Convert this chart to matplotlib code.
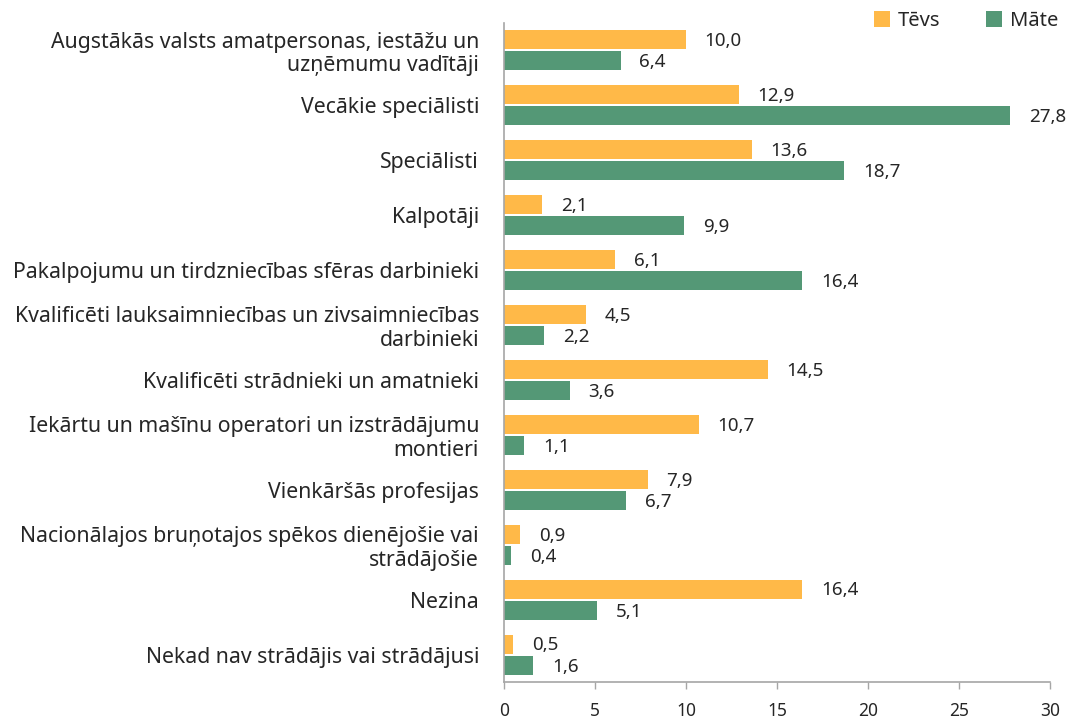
import matplotlib
matplotlib.use("Agg")
import matplotlib.pyplot as plt
import numpy as np

plt.rcParams['font.family'] = ['Noto Sans', 'DejaVu Sans']

categories = [
    "Augstākās valsts amatpersonas, iestāžu un\nuzņēmumu vadītāji",
    "Vecākie speciālisti",
    "Speciālisti",
    "Kalpotāji",
    "Pakalpojumu un tirdzniecības sfēras darbinieki",
    "Kvalificēti lauksaimniecības un zivsaimniecības\ndarbinieki",
    "Kvalificēti strādnieki un amatnieki",
    "Iekārtu un mašīnu operatori un izstrādājumu\nmontieri",
    "Vienkāršās profesijas",
    "Nacionālajos bruņotajos spēkos dienējošie vai\nstrādājošie",
    "Nezina",
    "Nekad nav strādājis vai strādājusi",
]
tevs = [10.0, 12.9, 13.6, 2.1, 6.1, 4.5, 14.5, 10.7, 7.9, 0.9, 16.4, 0.5]
mate = [6.4, 27.8, 18.7, 9.9, 16.4, 2.2, 3.6, 1.1, 6.7, 0.4, 5.1, 1.6]
series_names = ["Tēvs", "Māte"]
xticks = [0, 5, 10, 15, 20, 25, 30]

c_tevs = "#FFB948"
c_mate = "#549876"
txt = "#262626"
grey = "#A6A6A6"

fig = plt.figure(figsize=(10.69, 7.19), dpi=100)
ax = fig.add_axes([0.4715, 0.0508, 0.9822 - 0.4715, 0.9687 - 0.0508])

n = len(categories)
y = np.arange(n)
h = 0.35
gap = 0.02
b1 = ax.barh(y - h / 2 - gap / 2, tevs, height=h, color=c_tevs, label=series_names[0])
b2 = ax.barh(y + h / 2 + gap / 2, mate, height=h, color=c_mate, label=series_names[1])

for yy, v in zip(y - h / 2 - gap / 2, tevs):
    ax.annotate(f"{v:.1f}".replace(".", ","), (v, yy), xytext=(13.5, -0.5),
                textcoords="offset points", ha="left", va="center",
                fontsize=13.5, color=txt)
for yy, v in zip(y + h / 2 + gap / 2, mate):
    ax.annotate(f"{v:.1f}".replace(".", ","), (v, yy), xytext=(13.5, -1.5),
                textcoords="offset points", ha="left", va="center",
                fontsize=13.5, color=txt)

ax.set_ylim(n - 0.5, -0.5)
ax.set_xlim(0, 30)
ax.set_yticks(y)
ax.set_yticklabels(categories, fontsize=15.3, color=txt, ha="right",
                   linespacing=1.15)
ax.tick_params(axis="y", length=0, pad=18)
ax.set_xticks(xticks)
ax.set_xticklabels([str(t) for t in xticks], fontsize=12.5, color=txt)
ax.tick_params(axis="x", length=5, width=1, color=grey, pad=9, direction="out")

for s in ["top", "right"]:
    ax.spines[s].set_visible(False)
for s in ["left", "bottom"]:
    ax.spines[s].set_color(grey)
    ax.spines[s].set_linewidth(1.2)

fig.legend(handles=[b1, b2], labels=series_names, loc="upper right",
           bbox_to_anchor=(1.007, 1.01), ncol=2, frameon=False,
           fontsize=14.5, handlelength=0.8, handleheight=0.8,
           handletextpad=0.4, columnspacing=2.25, labelcolor=txt)

fig.savefig("out.png", dpi=100)
